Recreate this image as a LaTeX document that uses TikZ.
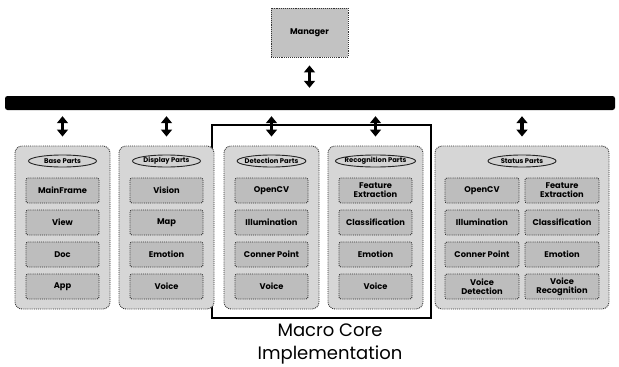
\documentclass[tikz,border=0pt]{standalone}
\usepackage{fontspec}
\setmainfont{Poppins}
\usetikzlibrary{shapes.geometric,arrows.meta}
\begin{document}
\begin{tikzpicture}[x=1pt,y=-1pt,
  panel/.style={draw=black!80,densely dotted,line width=0.9pt,fill=gray!32,rounded corners=7pt,minimum width=95pt,minimum height=163pt,inner sep=0pt},
  part/.style={draw=black!80,densely dotted,line width=0.9pt,fill=gray!52,rounded corners=2pt,minimum width=73pt,minimum height=25pt,inner sep=1pt,align=center,font=\bfseries\fontsize{8.3}{8.8}\selectfont},
  spart/.style={part,minimum width=74pt},
  ttl/.style={ellipse,draw=black!85,line width=0.9pt,fill=gray!35,minimum height=12pt,minimum width=68pt,inner xsep=-2.5pt,inner ysep=0pt,font=\bfseries\fontsize{6.8}{7.3}\selectfont},
  darrow/.style={{Triangle[width=11pt,length=7pt]}-{Triangle[width=11pt,length=7pt]},line width=3.4pt},
]
\useasboundingbox (0,0) rectangle (619,367);

% manager and bus
\node[draw=black!80,densely dotted,line width=0.9pt,fill=gray!48,minimum width=77pt,minimum height=49pt,font=\bfseries\fontsize{8.3}{9}\selectfont] (mgr) at (309.5,32.5) {Manager};
\node[fill=black,rounded corners=2.5pt,minimum width=610pt,minimum height=14pt,inner sep=0pt] (bus) at (310,103) {};
\draw[darrow,shorten <=8pt,shorten >=8pt] (mgr.south) -- (mgr.south |- bus.north);

% macro core frame
\node[draw=black,line width=2.2pt,minimum width=219pt,minimum height=193pt,inner sep=0pt] (macro) at (321.5,221.5) {};
\node[align=center,font=\fontsize{18}{23.5}\selectfont] (lbl) at (330,344) {Macro Core\\Implementation};

% panels
\node[panel] (base) at (62.5,227.5) {};
\node[panel] (disp) at (166.5,227.5) {};
\node[panel] (det) at (271.5,227.5) {};
\node[panel] (rec) at (375.5,227.5) {};
\node[panel,minimum width=174pt] (stat) at (522,227.5) {};

\foreach \p in {base,disp,det,rec,stat}{
  \draw[darrow,shorten <=6pt,shorten >=9pt] (\p.north |- bus.south) -- (\p.north);
}

% titles
\node[ttl] (tbase) at (62.5,161) {Base Parts};
\node[ttl] (tdisp) at (166.5,161) {Display Parts};
\node[ttl] (tdet) at (271.5,161) {Detection Parts};
\node[ttl] (trec) at (375.5,161) {Recognition Parts};
\node[ttl] (tstat) at (522,161) {Status Parts};

% base parts
\node[part] (b1) at (62.5,190.5) {MainFrame};
\node[part] (b2) at (62.5,222.5) {View};
\node[part] (b3) at (62.5,254.5) {Doc};
\node[part] (b4) at (62.5,286.5) {App};
% display parts
\node[part] (d1) at (166.5,190.5) {Vision};
\node[part] (d2) at (166.5,222.5) {Map};
\node[part] (d3) at (166.5,254.5) {Emotion};
\node[part] (d4) at (166.5,286.5) {Voice};
% detection parts
\node[part] (e1) at (271.5,190.5) {OpenCV};
\node[part] (e2) at (271.5,222.5) {Illumination};
\node[part] (e3) at (271.5,254.5) {Conner Point};
\node[part] (e4) at (271.5,286.5) {Voice};
% recognition parts
\node[part] (r1) at (375.5,190.5) {Feature\\Extraction};
\node[part] (r2) at (375.5,222.5) {Classification};
\node[part] (r3) at (375.5,254.5) {Emotion};
\node[part] (r4) at (375.5,286.5) {Voice};
% status parts
\node[spart] (s1) at (482,190.5) {OpenCV};
\node[spart] (s2) at (482,222.5) {Illumination};
\node[spart] (s3) at (482,254.5) {Conner Point};
\node[spart] (s4) at (482,286.5) {Voice\\Detection};
\node[spart] (s5) at (562,190.5) {Feature\\Extraction};
\node[spart] (s6) at (562,222.5) {Classification};
\node[spart] (s7) at (562,254.5) {Emotion};
\node[spart] (s8) at (562,286.5) {Voice\\Recognition};
\end{tikzpicture}
\end{document}
